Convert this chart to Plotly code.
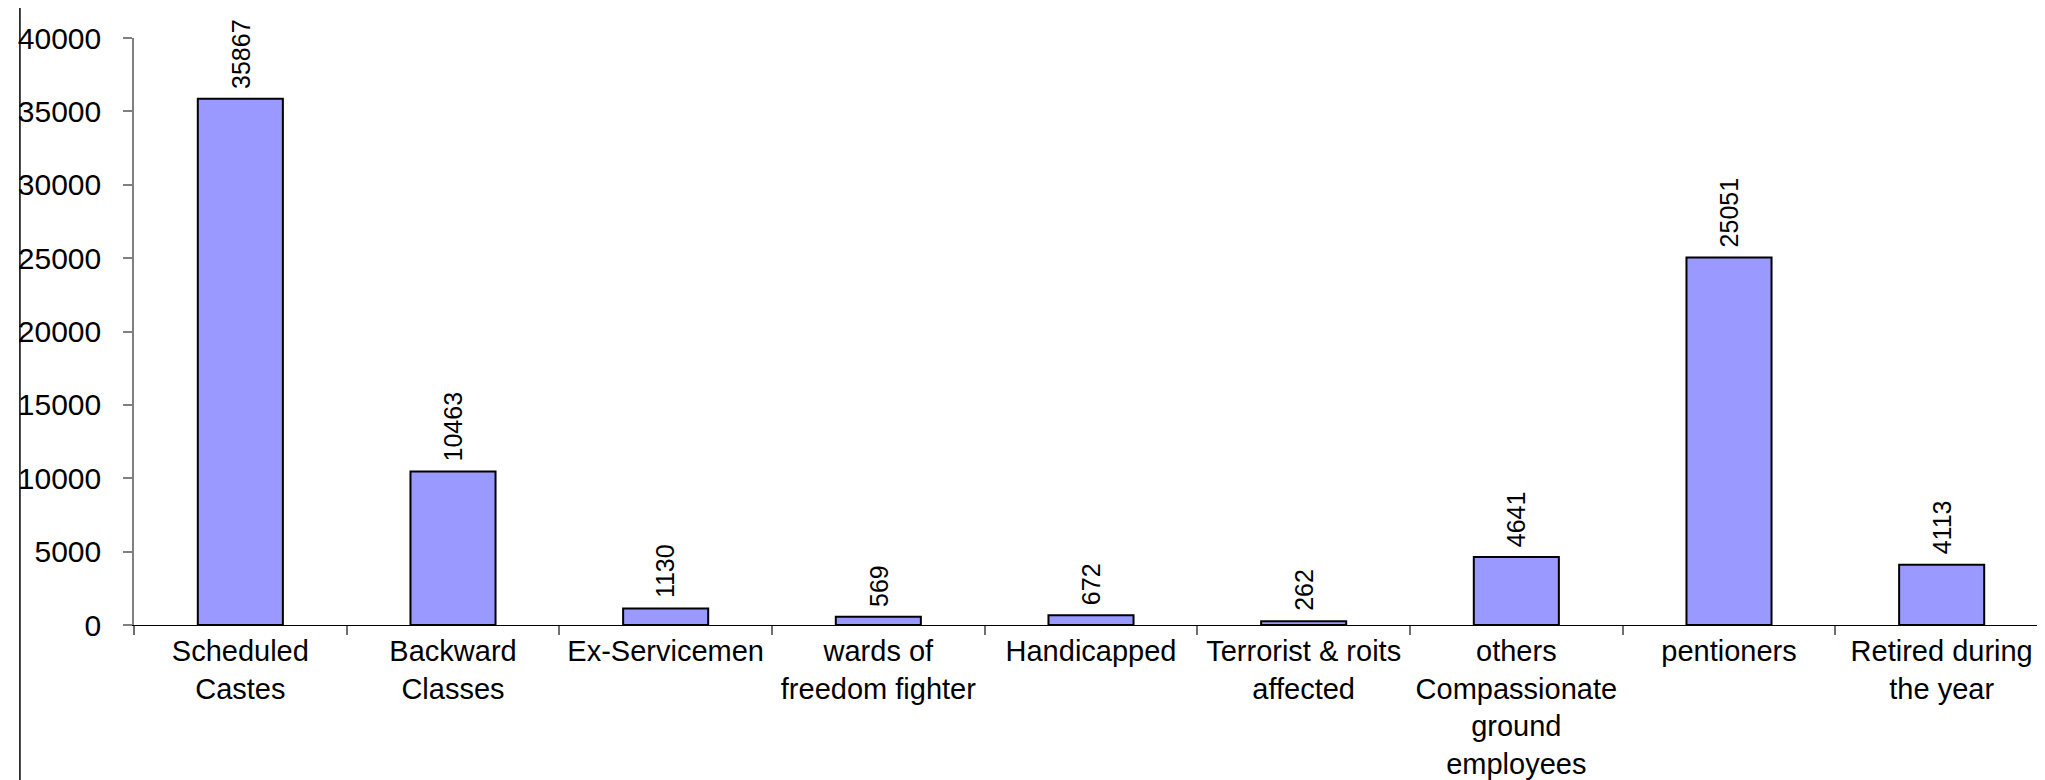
import plotly.graph_objects as go

categories = [
    "Scheduled<br>Castes",
    "Backward<br>Classes",
    "Ex-Servicemen",
    "wards of<br>freedom fighter",
    "Handicapped",
    "Terrorist & roits<br>affected",
    "others<br>Compassionate<br>ground<br>employees",
    "pentioners",
    "Retired during<br>the year",
]
values = [35867, 10463, 1130, 569, 672, 262, 4641, 25051, 4113]
y_ticks = [0, 5000, 10000, 15000, 20000, 25000, 30000, 35000, 40000]

FONT = "Liberation Sans, Arial, sans-serif"

fig = go.Figure(
    go.Bar(
        x=categories,
        y=values,
        width=0.4,
        marker=dict(color="#9999FF", line=dict(color="#000000", width=2)),
        hoverinfo="x+y",
    )
)

# value labels (rotated) above each bar
for c, v in zip(categories, values):
    fig.add_annotation(
        x=c,
        y=v,
        text=str(v),
        textangle=-90,
        showarrow=False,
        xanchor="center",
        yanchor="bottom",
        yshift=8,
        font=dict(family=FONT, size=25, color="#000000"),
    )

fig.update_layout(
    width=2045,
    height=780,
    margin=dict(l=126, r=5, t=30, b=163),
    plot_bgcolor="white",
    paper_bgcolor="white",
    showlegend=False,
    font=dict(family=FONT, size=29, color="#000000"),
    bargap=0.6,
)

fig.update_xaxes(
    type="category",
    showline=True,
    linecolor="#000000",
    linewidth=1.2,
    ticks="outside",
    tickson="boundaries",
    ticklen=9,
    tickcolor="#707070",
    tickwidth=1.5,
    showgrid=False,
    tickfont=dict(family=FONT, size=29, color="#000000"),
)

fig.update_yaxes(
    range=[0, 40000],
    tickmode="array",
    tickvals=y_ticks,
    ticktext=[str(t) for t in y_ticks],
    showline=True,
    linecolor="#808080",
    linewidth=1.5,
    ticks="outside",
    ticklen=9,
    tickcolor="#808080",
    tickwidth=1.5,
    showgrid=False,
    zeroline=False,
    ticklabelstandoff=16,
    tickfont=dict(family=FONT, size=30, color="#000000"),
)

# chart-area left border line
fig.add_shape(
    type="line",
    xref="paper",
    yref="paper",
    x0=-0.0596,
    x1=-0.0596,
    y0=-0.3,
    y1=1.06,
    line=dict(color="#000000", width=1.5),
)

fig.write_html("out.html")
